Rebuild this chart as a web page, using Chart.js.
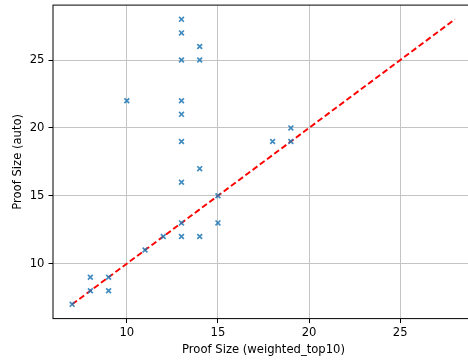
<!DOCTYPE html>
<html>
<head>
<meta charset="utf-8">
<script src="https://cdn.jsdelivr.net/npm/chart.js@4"></script>
<style>
  html, body { margin: 0; padding: 0; background: #fff; overflow: hidden; }
  #wrap { width: 480px; height: 360px; }
</style>
</head>
<body>
<div id="wrap"><canvas id="proof"></canvas></div>
<script>
// proof size: weighted_top10 (x) vs auto (y)
var weightedTop10 = [13, 13, 14, 13, 14, 10, 13, 13, 13, 14, 13, 18, 19, 19, 15, 15, 13, 13, 14, 12, 11, 8, 9, 8, 9, 7];
var autoSize      = [28, 27, 26, 25, 25, 22, 22, 21, 19, 17, 16, 19, 20, 19, 15, 13, 13, 12, 12, 12, 11, 9, 9, 8, 8, 7];
var diagX = [7, 28];
var diagY = [7, 28];
var xTicks = [10, 15, 20, 25];
var yTicks = [10, 15, 20, 25];

var points = [];
for (var i in weightedTop10) {
    points.push({ x: weightedTop10[i], y: autoSize[i] });
}
var diag = [];
for (var j in diagX) {
    diag.push({ x: diagX[j], y: diagY[j] });
}

var font = { family: 'DejaVu Sans', size: 11.6 };

// black frame around the plot area
var frame = {
    id: 'frame',
    afterDatasetsDraw: function(chart) {
        var a = chart.chartArea, c = chart.ctx;
        c.save();
        c.strokeStyle = '#000';
        c.lineWidth = 1;
        c.strokeRect(a.left, a.top, a.right - a.left, a.bottom - a.top);
        c.restore();
    }
};

var ctx = document.getElementById('proof');
new Chart(ctx, {
    type: 'scatter',
    data: {
        datasets: [{
            label: 'points',
            data: points,
            pointStyle: 'crossRot',
            pointRadius: 3.4,
            pointHoverRadius: 3.4,
            pointBorderWidth: 1.7,
            borderColor: 'rgba(31,119,180,0.85)',
            backgroundColor: 'rgba(31,119,180,0.85)'
        }, {
            type: 'line',
            label: 'y = x',
            data: diag,
            borderColor: '#ff0000',
            borderWidth: 1.9,
            borderDash: [6, 3],
            pointRadius: 0,
            fill: false
        }]
    },
    options: {
        responsive: true,
        maintainAspectRatio: false,
        animation: false,
        layout: { padding: { left: 0, right: 6, top: 4.4, bottom: 0 } },
        plugins: { legend: { display: false }, tooltip: { enabled: false } },
        scales: {
            x: {
                type: 'linear',
                min: 5.95,
                max: 29.05,
                afterBuildTicks: function(s) { s.ticks = xTicks.map(function(v) { return { value: v }; }); },
                afterFit: function(s) { s.height = 41.4; s.paddingLeft = 0; s.paddingRight = 0; },
                grid: { color: '#c4c4c4', lineWidth: 1, tickLength: 4.5, tickColor: '#000' },
                border: { display: false },
                ticks: { color: '#000', font: font, padding: 3, maxRotation: 0 },
                title: { display: true, text: 'Proof Size (weighted_top10)', color: '#000', font: font, padding: { top: 0, bottom: 3 } }
            },
            y: {
                type: 'linear',
                min: 5.95,
                max: 29.05,
                afterBuildTicks: function(s) { s.ticks = yTicks.map(function(v) { return { value: v }; }); },
                afterFit: function(s) { s.width = 53; s.paddingTop = 0; s.paddingBottom = 0; },
                grid: { color: '#c4c4c4', lineWidth: 1, tickLength: 4.5, tickColor: '#000' },
                border: { display: false },
                ticks: { color: '#000', font: font, padding: 4 },
                title: { display: true, text: 'Proof Size (auto)', color: '#000', font: font, padding: { top: 11, bottom: 0 } }
            }
        }
    },
    plugins: [frame]
});
</script>
</body>
</html>
